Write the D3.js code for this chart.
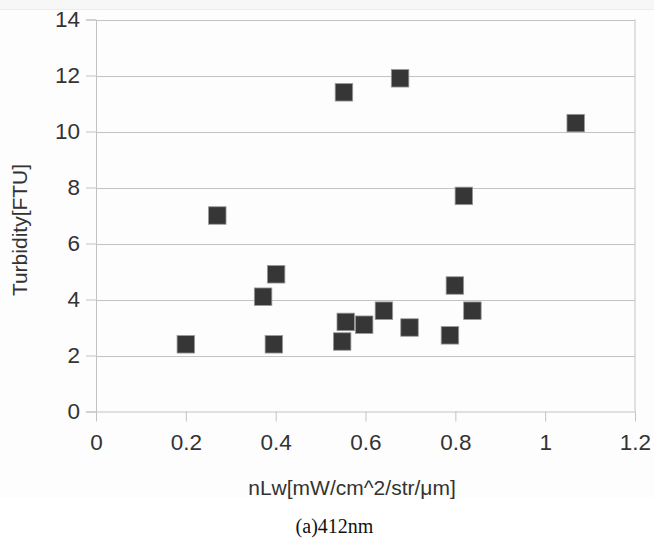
<!DOCTYPE html>
<html>
<head>
<meta charset="utf-8">
<script src="https://cdn.jsdelivr.net/npm/d3@7"></script>
<style>
  html, body { margin: 0; padding: 0; background: #ffffff; }
  svg { display: block; }
</style>
</head>
<body>
<svg id="chart" width="654" height="540"></svg>
<script>
// ---- data ----
const xValues = [0.20, 0.27, 0.401, 0.372, 0.396, 0.556, 0.548, 0.597, 0.641, 0.698, 0.799, 0.788, 0.838, 0.552, 0.677, 1.068, 0.819];
const yValues = [2.40, 7.00, 4.90, 4.10, 2.40, 3.20, 2.50, 3.10, 3.60, 3.00, 4.50, 2.72, 3.60, 11.40, 11.90, 10.30, 7.70];
const xTicks = [0, 0.2, 0.4, 0.6, 0.8, 1, 1.2];
const yTicks = [0, 2, 4, 6, 8, 10, 12, 14];
const xTitle = "nLw[mW/cm^2/str/μm]";
const yTitle = "Turbidity[FTU]";
const caption = "(a)412nm";

const svg = d3.select("#chart");
const W = 654, H = 540;
const plot = { left: 96, right: 635, top: 19.5, bottom: 411.5 };

// background bands
svg.append("rect").attr("x", 0).attr("y", 0).attr("width", W).attr("height", 9).attr("fill", "#f7f7f7");
svg.append("line").attr("x1", 0).attr("x2", W).attr("y1", 9.5).attr("y2", 9.5).attr("stroke", "#ececec");
svg.append("rect").attr("x", 0).attr("y", 10).attr("width", W).attr("height", 488).attr("fill", "#fdfdfd");

const x = d3.scaleLinear().domain([0, 1.2]).range([plot.left, plot.right]);
const y = d3.scaleLinear().domain([0, 14]).range([plot.bottom, plot.top]);

const font = "'Liberation Sans', Arial, sans-serif";
const grid = "#c3c3c3";
const tickFs = 22.5;

// y axis
const yAxis = d3.axisLeft(y).tickValues(yTicks).tickSize(10).tickPadding(6).tickFormat(d3.format("d"));
const gy = svg.append("g").attr("transform", `translate(${plot.left},0)`).call(yAxis);
gy.select(".domain").attr("stroke", grid);
gy.selectAll(".tick line").attr("stroke", grid);
gy.selectAll(".tick text").attr("font-family", font).attr("font-size", tickFs).attr("fill", "#333");

// horizontal gridlines
svg.append("g").selectAll("line").data(yTicks.filter(d => d > 0)).join("line")
  .attr("x1", plot.left).attr("x2", plot.right)
  .attr("y1", d => Math.round(y(d)) + 0.5).attr("y2", d => Math.round(y(d)) + 0.5)
  .attr("stroke", grid);

// right border
svg.append("line").attr("x1", plot.right).attr("x2", plot.right)
  .attr("y1", plot.top).attr("y2", plot.bottom).attr("stroke", grid);

// x axis
const xAxis = d3.axisBottom(x).tickValues(xTicks).tickSize(10).tickPadding(13).tickFormat(d => String(d));
const gx = svg.append("g").attr("transform", `translate(0,${plot.bottom})`).call(xAxis);
gx.select(".domain").attr("stroke", grid).attr("d", `M${plot.left},0.5H${plot.right}`);
gx.selectAll(".tick line").attr("stroke", grid);
gx.selectAll(".tick text").attr("font-family", font).attr("font-size", tickFs).attr("fill", "#333");

// titles
svg.append("text").attr("x", 352).attr("y", 495).attr("text-anchor", "middle")
  .attr("font-family", font).attr("font-size", 21).attr("fill", "#333").text(xTitle);
svg.append("text").attr("transform", "translate(27,230) rotate(-90)").attr("text-anchor", "middle")
  .attr("font-family", font).attr("font-size", 21).attr("fill", "#333").text(yTitle);
svg.append("text").attr("x", 334.5).attr("y", 533).attr("text-anchor", "middle")
  .attr("font-family", "'Liberation Serif', 'Times New Roman', serif").attr("font-size", 20).attr("fill", "#111").text(caption);

// points
const s = 17.5;
svg.append("g").selectAll("rect").data(xValues.map((v, i) => [v, yValues[i]])).join("rect")
  .attr("x", d => x(d[0]) - s / 2).attr("y", d => y(d[1]) - s / 2)
  .attr("width", s).attr("height", s)
  .attr("fill", "#363636").attr("stroke", "#9a9a9a").attr("stroke-width", 0.8);
</script>
</body>
</html>
